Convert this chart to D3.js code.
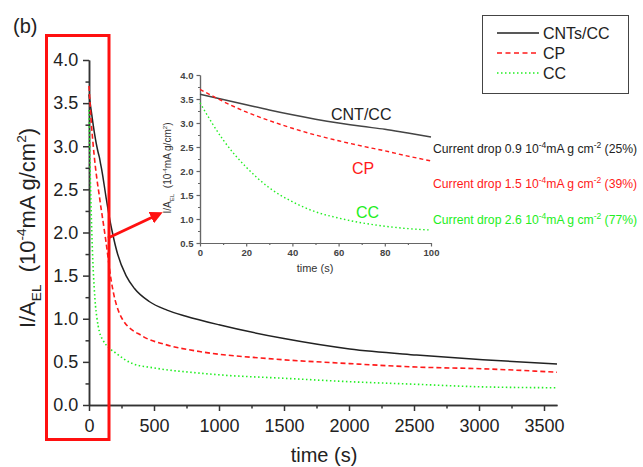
<!DOCTYPE html>
<html>
<head>
<meta charset="utf-8">
<script src="https://cdn.jsdelivr.net/npm/d3@7"></script>
<style>
  body { margin: 0; background: #fff; }
  svg { font-family: Arial, "Liberation Sans", sans-serif; }
</style>
</head>
<body>
<div id="chart"></div>
<script>
// time (s) and I/A_EL values
const cntTime = [0, 10, 20, 30, 40, 50, 60, 70, 80, 90, 100, 130, 160, 180, 220, 285, 350, 463, 600, 746, 1000, 1500, 2005, 2520, 3030, 3600];
const cntVals = [3.6, 3.49, 3.38, 3.27, 3.17, 3.08, 3.0, 2.93, 2.87, 2.79, 2.71, 2.42, 2.15, 2.0, 1.75, 1.5, 1.35, 1.2, 1.1, 1.03, 0.93, 0.77, 0.65, 0.58, 0.525, 0.475];

const cpTime = [0, 10, 20, 30, 40, 50, 60, 70, 80, 90, 100, 130, 170, 255, 410, 590, 850, 1363, 2005, 2520, 3030, 3600];
const cpVals = [3.7, 3.45, 3.23, 3.05, 2.89, 2.75, 2.63, 2.52, 2.42, 2.31, 2.21, 1.9, 1.45, 1.0, 0.8, 0.7, 0.62, 0.54, 0.48, 0.44, 0.42, 0.38];

const ccTime = [0, 10, 20, 30, 40, 50, 60, 70, 80, 90, 100, 130, 208, 335, 500, 848, 1000, 1500, 2005, 2520, 3030, 3600];
const ccVals = [3.42, 2.65, 2.08, 1.65, 1.36, 1.15, 1.02, 0.92, 0.85, 0.8, 0.77, 0.7, 0.6, 0.48, 0.43, 0.37, 0.35, 0.31, 0.27, 0.24, 0.21, 0.2];

const seriesNames = ["CNTs/CC", "CP", "CC"];
const insetNames = ["CNT/CC", "CP", "CC"];
const dropVals = ["0.9", "1.5", "2.6"];
const dropPct = ["25%)", "39%)", "77%)"];

const xTicks = [0, 500, 1000, 1500, 2000, 2500, 3000, 3500];
const yTicks = [0, 0.5, 1, 1.5, 2, 2.5, 3, 3.5, 4];
const xTicksInset = [0, 20, 40, 60, 80, 100];
const yTicksInset = [0.5, 1, 1.5, 2, 2.5, 3, 3.5, 4];

const colors = ["#222", "#ff1a1a", "#22ee22"];
const dashes = [null, "5,3", "1.5,2.5"];

const series = [
    {name: seriesNames[0], t: cntTime, v: cntVals},
    {name: seriesNames[1], t: cpTime, v: cpVals},
    {name: seriesNames[2], t: ccTime, v: ccVals}
];

const svg = d3.select("#chart").append("svg")
    .attr("width", 643).attr("height", 467);

// ---- main plot ----
const x = d3.scaleLinear().domain([0, 3600]).range([89, 557]);
const y = d3.scaleLinear().domain([0, 4]).range([405, 60]);

const xMinor = svg.append("g").attr("transform", "translate(0,405)")
    .call(d3.axisBottom(x).tickValues(d3.range(250, 3600, 500)).tickSize(3.5).tickFormat("").tickSizeOuter(0));
const xAxis = svg.append("g").attr("transform", "translate(0,405)")
    .call(d3.axisBottom(x).tickValues(xTicks).tickSize(6).tickSizeOuter(0).tickFormat(d3.format("d")));
const yMinor = svg.append("g").attr("transform", "translate(89,0)")
    .call(d3.axisLeft(y).tickValues(d3.range(0.25, 4, 0.5)).tickSize(3.5).tickFormat("").tickSizeOuter(0));
const yAxis = svg.append("g").attr("transform", "translate(89,0)")
    .call(d3.axisLeft(y).tickValues(yTicks).tickSize(6).tickSizeOuter(0).tickFormat(d3.format(".1f")));

[xMinor, xAxis, yMinor, yAxis].forEach(g => {
    g.selectAll("path, line").attr("stroke", "#333").attr("stroke-width", 1.5);
});
xAxis.selectAll("text").attr("font-size", 18).attr("fill", "#222").attr("dy", "1.0em").attr("font-family", "Arial, Liberation Sans");
yAxis.selectAll("text").attr("font-size", 18).attr("fill", "#222").attr("dx", "-0.1em").attr("font-family", "Arial, Liberation Sans");

const line = d3.line()
    .x(d => x(d[0])).y(d => y(d[1]))
    .curve(d3.curveMonotoneX);

series.forEach((s, i) => {
    svg.append("path")
        .datum(s.t.map((t, j) => [t, s.v[j]]))
        .attr("d", line)
        .attr("fill", "none")
        .attr("stroke", colors[i])
        .attr("stroke-width", i == 0 ? 1.5 : 1.6)
        .attr("stroke-dasharray", dashes[i]);
});

// axis titles
svg.append("text").attr("x", 324).attr("y", 462)
    .attr("text-anchor", "middle").attr("font-size", 20).attr("fill", "#222")
    .text("time (s)");

function unitLabel(g, size) {
    // I/A_EL (10^-4 mA g/cm^2)
    g.append("tspan").text("I/A");
    g.append("tspan").attr("font-size", size * 0.62).attr("dy", size * 0.25).text("EL");
    g.append("tspan").attr("dy", -size * 0.25).text("\u00a0 (10");
    g.append("tspan").attr("font-size", size * 0.62).attr("dy", -size * 0.4).text("-4");
    g.append("tspan").attr("dy", size * 0.4).text("mA g/cm");
    g.append("tspan").attr("font-size", size * 0.62).attr("dy", -size * 0.4).text("2");
    g.append("tspan").attr("dy", size * 0.4).text(")");
}

const yTitle = svg.append("text")
    .attr("transform", "translate(35,228) rotate(-90)")
    .attr("text-anchor", "middle").attr("font-size", 22).attr("fill", "#222");
unitLabel(yTitle, 22);

svg.append("text").attr("x", 13).attr("y", 33)
    .attr("font-size", 20).attr("fill", "#222").text("(b)");

// red highlight box and arrow
svg.append("rect").attr("x", 46.5).attr("y", 35.5).attr("width", 62.5).attr("height", 404)
    .attr("fill", "none").attr("stroke", "#ff1010").attr("stroke-width", 3);

svg.append("defs").append("marker")
    .attr("id", "head").attr("viewBox", "0 0 10 10")
    .attr("refX", 5).attr("refY", 5)
    .attr("markerWidth", 4.2).attr("markerHeight", 4.2)
    .attr("orient", "auto")
    .append("path").attr("d", "M0,0 L10,5 L0,10 z").attr("fill", "#ff1010");

svg.append("line").attr("x1", 108).attr("y1", 238).attr("x2", 157).attr("y2", 215)
    .attr("stroke", "#ff1010").attr("stroke-width", 3)
    .attr("marker-end", "url(#head)");

// legend
const legend = svg.append("g");
legend.append("rect").attr("x", 482.5).attr("y", 15.5).attr("width", 146).attr("height", 78)
    .attr("fill", "#fff").attr("stroke", "#444").attr("stroke-width", 1);
seriesNames.forEach((n, i) => {
    const ly = 33 + i * 20;
    legend.append("line").attr("x1", 497).attr("x2", 539).attr("y1", ly).attr("y2", ly)
        .attr("stroke", colors[i]).attr("stroke-width", i == 0 ? 1.5 : 1.6)
        .attr("stroke-dasharray", i == 1 ? "5,3.5" : dashes[i]);
    legend.append("text").attr("x", 543).attr("y", ly + 6)
        .attr("font-size", 16).attr("fill", "#222").text(n);
});

// ---- inset ----
const xi = d3.scaleLinear().domain([0, 100]).range([200, 431]);
const yi = d3.scaleLinear().domain([0.5, 4]).range([243, 75]);

const ixMinor = svg.append("g").attr("transform", "translate(0,243)")
    .call(d3.axisBottom(xi).tickValues(d3.range(10, 100, 20)).tickSize(2).tickFormat("").tickSizeOuter(0));
const ixAxis = svg.append("g").attr("transform", "translate(0,243)")
    .call(d3.axisBottom(xi).tickValues(xTicksInset).tickSize(3.5).tickSizeOuter(0));
const iyMinor = svg.append("g").attr("transform", "translate(200,0)")
    .call(d3.axisLeft(yi).tickValues(d3.range(0.75, 4, 0.5)).tickSize(2).tickFormat("").tickSizeOuter(0));
const iyAxis = svg.append("g").attr("transform", "translate(200,0)")
    .call(d3.axisLeft(yi).tickValues(yTicksInset).tickSize(3.5).tickSizeOuter(0).tickFormat(d3.format(".1f")));

[ixMinor, ixAxis, iyMinor, iyAxis].forEach(g => {
    g.selectAll("path, line").attr("stroke", "#666").attr("stroke-width", 1.2);
});
[ixAxis, iyAxis].forEach(g => {
    g.selectAll("text").attr("font-size", 9.5).attr("font-weight", "bold")
        .attr("fill", "#444").attr("font-family", "Arial, Liberation Sans");
});

const iline = d3.line()
    .x(d => xi(d[0])).y(d => yi(d[1]))
    .curve(d3.curveMonotoneX);

series.forEach((s, i) => {
    svg.append("path")
        .datum(s.t.map((t, j) => [t, s.v[j]]).filter(d => d[0] <= 100))
        .attr("d", iline)
        .attr("fill", "none")
        .attr("stroke", i == 0 ? "#444" : colors[i])
        .attr("stroke-width", i == 0 ? 1.5 : 1.4)
        .attr("stroke-dasharray", i == 1 ? "4,3" : dashes[i]);
});

svg.append("text").attr("x", 315).attr("y", 272)
    .attr("text-anchor", "middle").attr("font-size", 11).attr("fill", "#333")
    .text("time (s)");

const iyTitle = svg.append("text")
    .attr("transform", "translate(171,168) rotate(-90)")
    .attr("text-anchor", "middle").attr("font-size", 10).attr("fill", "#333");
unitLabel(iyTitle, 10);

// curve names inside inset
const nameX = [331, 352, 356];
const nameY = [120, 174, 218];
insetNames.forEach((n, i) => {
    svg.append("text").attr("x", nameX[i]).attr("y", nameY[i])
        .attr("font-size", 16).attr("fill", colors[i]).text(n);
});

// current drop notes (shrunk a little so the full text fits)
const noteY = [153, 188, 224];
dropVals.forEach((v, i) => {
    const t = svg.append("text").attr("x", 433).attr("y", noteY[i])
        .attr("font-size", 12.2).attr("fill", colors[i]);
    t.append("tspan").text("Current drop " + v + " 10");
    t.append("tspan").attr("font-size", 8.5).attr("dy", -5).text("-4");
    t.append("tspan").attr("dy", 5).text("mA g cm");
    t.append("tspan").attr("font-size", 8.5).attr("dy", -5).text("-2");
    t.append("tspan").attr("dy", 5).text(" (" + dropPct[i]);
});
</script>
</body>
</html>
